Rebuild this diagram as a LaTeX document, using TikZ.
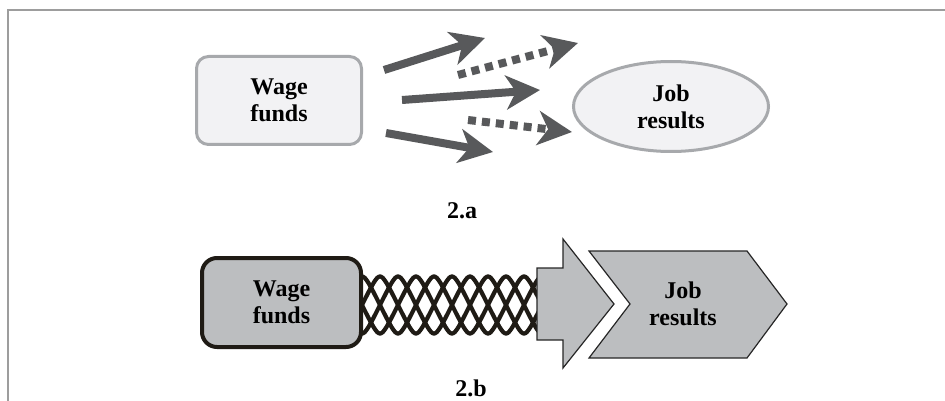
\documentclass[tikz,border=0pt]{standalone}
\usepackage{fontspec}
\setmainfont{Liberation Serif}
\usetikzlibrary{arrows.meta,shapes.geometric}
\definecolor{arrowgray}{HTML}{58595B}
\definecolor{lightfill}{HTML}{F2F2F4}
\definecolor{lightline}{HTML}{A7A9AC}
\definecolor{darkfill}{HTML}{BCBEC0}
\definecolor{meshcol}{HTML}{1F1B15}
\definecolor{framecol}{HTML}{9D9D9D}
\tikzset{
	label/.style={font=\bfseries\fontsize{24}{27}\selectfont, align=center},
	fund/.style={label, rounded corners=12pt, minimum width=165pt, minimum height=88pt},
	flow/.style={arrowgray, line width=8pt, -{Stealth[length=34pt, width=34pt, inset=10pt]}},
	weak/.style={flow, dash pattern=on 8pt off 6pt}
}
\begin{document}
\begin{tikzpicture}[x=1pt, y=-1pt]
	\useasboundingbox (0,0) rectangle (945,401);
	\draw[framecol, line width=2pt] (8,401) -- (8,10) -- (945,10);
	% 2.a
	\node[fund, draw=lightline, fill=lightfill, line width=3pt] (wageA) at (279,100.5) {Wage\\funds};
	\node[label, ellipse, draw=lightline, fill=lightfill, line width=3pt, minimum width=195pt, minimum height=90pt, inner sep=0pt] (jobA) at (671,106.5) {Job\\results};
	\coordinate (s1) at (384,70);  \coordinate (t1) at (485,38);
	\coordinate (s2) at (402,100); \coordinate (t2) at (540,90);
	\coordinate (s3) at (386,133); \coordinate (t3) at (493,152);
	\coordinate (d1) at (458,75);  \coordinate (e1) at (578,43);
	\coordinate (d2) at (468,120); \coordinate (e2) at (572,132);
	\foreach \a/\b in {s1/t1,s2/t2,s3/t3}	\draw[flow] (\a) -- (\b);
	\foreach \a/\b in {d1/e1,d2/e2}	\draw[weak] (\a) -- (\b);
	\node[label] (capA) at (462,211) {2.a};
	% 2.b
	\def\ymid{305};
	\def\amp{28.5};
	\def\per{72};
	\foreach \k in {0,1,2,3}
		\draw[meshcol, line width=4.2pt] plot[domain=360:540, samples=240, smooth] (\x, {\ymid-\amp*asin(0.9*sin((\x-362)/\per*360+90*\k+90))/asin(0.9)});
	\node[fund, draw=meshcol, fill=darkfill, line width=4pt, rounded corners=15pt, minimum width=159pt, minimum height=89pt] (wageB) at (281.5,302.5) {Wage\\funds};
	\draw[fill=darkfill, draw=black!85, line width=1.2pt] (537,268) -- (563,268) -- (563,239) -- (614,304) -- (563,368) -- (563,340) -- (537,340) -- cycle;
	\draw[fill=darkfill, draw=black!85, line width=1.2pt] (589,251) -- (747,251) -- (787,304) -- (747,358) -- (589,358) -- (630,304) -- cycle;
	\node[label] (jobB) at (683,304) {Job\\results};
	\node[label] (capB) at (471,388) {2.b};
\end{tikzpicture}
\end{document}
